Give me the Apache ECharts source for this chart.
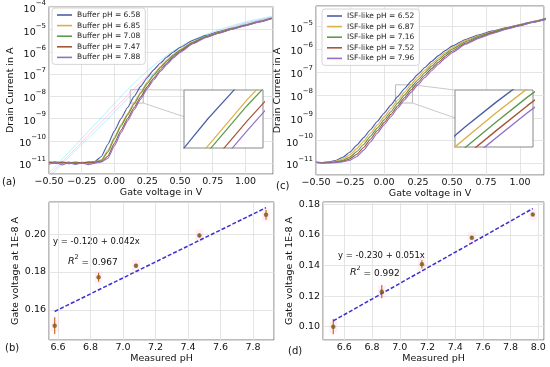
<!DOCTYPE html>
<html><head><meta charset="utf-8">
<script src="https://cdn.jsdelivr.net/npm/echarts@6/dist/echarts.min.js"></script>
<style>html,body{margin:0;padding:0;background:#fff}#c{width:550px;height:367px}</style>
</head><body><div id="c"></div>
<script>
// ---------- data ----------
const vg = [-0.50,-0.45,-0.40,-0.35,-0.30,-0.25,-0.20,-0.15,-0.10,-0.05,0.00,0.05,0.10,0.15,0.20,0.25,0.30,0.35,0.40,0.45,0.50,0.60,0.70,0.80,0.90,1.00,1.10,1.20];
// log10 of drain current (A), panel (a) buffer
const bufNames = ['Buffer pH = 6.58','Buffer pH = 6.85','Buffer pH = 7.08','Buffer pH = 7.47','Buffer pH = 7.88'];
const buf658 = [-10.95,-11.02,-10.96,-11.03,-10.97,-11.02,-10.96,-10.93,-10.70,-10.15,-9.55,-9.00,-8.50,-8.00,-7.55,-7.15,-6.80,-6.50,-6.23,-6.00,-5.80,-5.47,-5.25,-5.08,-4.93,-4.78,-4.62,-4.47];
const buf685 = [-10.92,-10.98,-10.93,-10.99,-10.94,-10.99,-10.93,-10.95,-10.85,-10.42,-9.83,-9.27,-8.77,-8.28,-7.80,-7.37,-7.00,-6.67,-6.37,-6.12,-5.90,-5.54,-5.29,-5.11,-4.95,-4.80,-4.63,-4.48];
const buf708 = [-10.97,-11.00,-10.95,-11.01,-10.96,-11.00,-10.95,-10.96,-10.88,-10.50,-9.90,-9.33,-8.83,-8.34,-7.86,-7.43,-7.05,-6.71,-6.41,-6.15,-5.92,-5.56,-5.30,-5.12,-4.96,-4.80,-4.64,-4.48];
const buf747 = [-10.99,-10.94,-11.00,-10.95,-11.02,-10.96,-11.00,-10.97,-10.93,-10.68,-10.10,-9.52,-9.00,-8.50,-8.02,-7.57,-7.17,-6.81,-6.50,-6.22,-5.98,-5.60,-5.33,-5.14,-4.97,-4.81,-4.65,-4.49];
const buf788 = [-11.05,-10.98,-11.08,-10.97,-11.06,-10.99,-11.07,-11.00,-10.95,-10.78,-10.22,-9.63,-9.10,-8.60,-8.12,-7.66,-7.25,-6.88,-6.56,-6.27,-6.02,-5.63,-5.35,-5.15,-4.98,-4.82,-4.66,-4.50];
// faint background sweeps in (a)
const faintV = [-0.50,-0.30,-0.10,0.05,0.15,0.30,0.45,0.60,0.80,1.00,1.20];
const faintCyan1 = [-11.45,-10.20,-8.95,-8.00,-7.40,-6.60,-5.95,-5.45,-5.00,-4.65,-4.40];
const faintCyan2 = [-11.65,-10.45,-9.30,-8.40,-7.80,-6.95,-6.20,-5.60,-5.10,-4.72,-4.45];
const faintPink1 = [-11.55,-10.35,-9.15,-8.25,-7.65,-6.82,-6.10,-5.55,-5.06,-4.70,-4.43];
// panel (c) ISF-like
const isfNames = ['ISF-like pH = 6.52','ISF-like pH = 6.87','ISF-like pH = 7.16','ISF-like pH = 7.52','ISF-like pH = 7.96'];
const isf652 = [-10.94,-10.96,-10.93,-10.86,-10.72,-10.50,-10.20,-9.87,-9.52,-9.16,-8.80,-8.44,-8.07,-7.72,-7.39,-7.08,-6.79,-6.52,-6.27,-6.05,-5.85,-5.56,-5.35,-5.18,-5.04,-4.90,-4.76,-4.62];
const isf687 = [-10.95,-10.97,-10.95,-10.90,-10.80,-10.62,-10.35,-10.03,-9.68,-9.32,-8.96,-8.60,-8.23,-7.87,-7.53,-7.21,-6.91,-6.63,-6.37,-6.13,-5.92,-5.61,-5.39,-5.21,-5.06,-4.92,-4.77,-4.63];
const isf716 = [-10.95,-10.97,-10.96,-10.93,-10.86,-10.72,-10.48,-10.17,-9.81,-9.45,-9.09,-8.73,-8.36,-8.00,-7.65,-7.33,-7.02,-6.73,-6.46,-6.21,-5.99,-5.66,-5.42,-5.23,-5.07,-4.93,-4.78,-4.64];
const isf752 = [-10.96,-10.98,-10.97,-10.95,-10.90,-10.80,-10.60,-10.30,-9.94,-9.57,-9.21,-8.85,-8.48,-8.12,-7.77,-7.44,-7.13,-6.84,-6.56,-6.30,-6.07,-5.72,-5.46,-5.26,-5.09,-4.94,-4.79,-4.65];
const isf796 = [-10.96,-10.99,-10.98,-10.97,-10.93,-10.86,-10.70,-10.42,-10.06,-9.68,-9.31,-8.95,-8.58,-8.22,-7.87,-7.54,-7.23,-6.93,-6.65,-6.38,-6.14,-5.77,-5.50,-5.29,-5.11,-4.96,-4.80,-4.66];
// panel (b)
const phB = [6.58,6.85,7.08,7.47,7.88];
const vgB = [0.1516,0.1772,0.1833,0.1993,0.2102];
const errB = [0.0044,0.0024,0.0010,0.0010,0.0026];
const fitBx = [6.58,7.88];
const fitBy = [0.1591,0.2140];
// panel (d)
const phD = [6.52,6.87,7.16,7.52,7.96];
const vgD = [0.1000,0.1229,0.1408,0.1582,0.1733];
const errD = [0.0050,0.0043,0.0027,0.0010,0.0010];
const fitDx = [6.52,7.96];
const fitDy = [0.1038,0.1772];
// inset windows (data units)
const insetA = {x:[0.12,0.22], y:[-8.3,-7.7]};
const insetC = {x:[0.084,0.209], y:[-8.35,-7.55]};

// ---------- styling ----------
const FF = 'DejaVu Sans';
const cols = ['#4c5ea8','#dcb047','#5e9a4a','#a5553a','#9070c8'];
const bufData = [buf658,buf685,buf708,buf747,buf788];
const isfData = [isf652,isf687,isf716,isf752,isf796];
const toPts = (xs, arr) => xs.map((v,i)=>[v, Math.pow(10, arr[i])]);

const grids = [
  {left:49, top:6, width:224, height:168, show:true, borderColor:'#555', borderWidth:0.8},
  {left:316, top:6, width:228, height:169, show:true, borderColor:'#555', borderWidth:0.8},
  {left:49, top:202, width:225, height:138, show:true, borderColor:'#555', borderWidth:0.8},
  {left:323, top:202, width:221, height:138, show:true, borderColor:'#555', borderWidth:0.8},
  {left:184, top:90, width:79, height:58, show:true, borderColor:'#888', borderWidth:1, backgroundColor:'#fff', zlevel:1},
  {left:455, top:90, width:78, height:57, show:true, borderColor:'#888', borderWidth:1, backgroundColor:'#fff', zlevel:1}
];
const split = {show:true, lineStyle:{color:'#dedede', width:0.8}};
const aline = {show:false};
const lblBase = {color:'#111', fontSize:9.5, fontFamily:FF, margin:3};
function onGrid(v, step){ return Math.abs(v/step - Math.round(v/step)) < 1e-6; }
function vLbl(v){ if(!onGrid(v,0.25)) return ''; return v.toFixed(2).replace('-','\u2212'); }
function expLbl(v){ const e=Math.log10(v), r=Math.round(e); if(Math.abs(e-r)>1e-6) return ''; return '{b|10}{s|'+(r<0?'\u2212':'')+Math.abs(r)+'}'; }
const expRich = {b:{fontSize:9.5, fontFamily:FF, color:'#111', lineHeight:15, verticalAlign:'bottom'}, s:{fontSize:7, fontFamily:FF, color:'#111', lineHeight:8, verticalAlign:'top'}};
const nameStyle = {fontSize:9.5, fontFamily:FF, color:'#111'};

const xAxes = [
  {gridIndex:0, type:'value', min:-0.5, max:1.21, interval:0.25, axisLine:aline, axisTick:{show:false}, splitLine:split, axisLabel:Object.assign({formatter:vLbl}, lblBase), name:'Gate voltage in V', nameLocation:'middle', nameGap:13, nameTextStyle:nameStyle},
  {gridIndex:1, type:'value', min:-0.5, max:1.176, interval:0.25, axisLine:aline, axisTick:{show:false}, splitLine:split, axisLabel:Object.assign({formatter:vLbl}, lblBase), name:'Gate voltage in V', nameLocation:'middle', nameGap:13, nameTextStyle:nameStyle},
  {gridIndex:2, type:'value', min:6.545, max:7.929, splitNumber:7, axisLine:aline, axisTick:{show:false}, splitLine:split, axisLabel:Object.assign({formatter:v=>onGrid(v,0.2)?v.toFixed(1):''}, lblBase), name:'Measured pH', nameLocation:'middle', nameGap:13, nameTextStyle:nameStyle},
  {gridIndex:3, type:'value', min:6.446, max:8.041, splitNumber:8, axisLine:aline, axisTick:{show:false}, splitLine:split, axisLabel:Object.assign({formatter:v=>onGrid(v,0.2)?v.toFixed(1):''}, lblBase), name:'Measured pH', nameLocation:'middle', nameGap:13, nameTextStyle:nameStyle},
  {gridIndex:4, type:'value', min:insetA.x[0], max:insetA.x[1], show:false, zlevel:1},
  {gridIndex:5, type:'value', min:insetC.x[0], max:insetC.x[1], show:false, zlevel:1}
];
const yAxes = [
  {gridIndex:0, type:'log', logBase:10, min:Math.pow(10,-11.49), max:Math.pow(10,-3.955), axisLine:aline, axisTick:{show:false}, splitLine:split, minorSplitLine:{show:false}, axisLabel:{formatter:expLbl, rich:expRich, margin:3}, name:'Drain Current in A', nameLocation:'middle', nameGap:31, nameTextStyle:nameStyle},
  {gridIndex:1, type:'log', logBase:10, min:Math.pow(10,-11.51), max:Math.pow(10,-4.09), axisLine:aline, axisTick:{show:false}, splitLine:split, axisLabel:{formatter:expLbl, rich:expRich, margin:3}, name:'Drain Current in A', nameLocation:'middle', nameGap:23, nameTextStyle:nameStyle},
  {gridIndex:2, type:'value', min:0.144, max:0.217, splitNumber:4, axisLine:aline, axisTick:{show:false}, splitLine:split, axisLabel:Object.assign({formatter:v=>onGrid(v,0.02)?v.toFixed(2):''}, lblBase), name:'Gate voltage at 1E-8 A', nameLocation:'middle', nameGap:26, nameTextStyle:nameStyle},
  {gridIndex:3, type:'value', min:0.0913, max:0.1815, splitNumber:5, axisLine:aline, axisTick:{show:false}, splitLine:split, axisLabel:Object.assign({formatter:v=>onGrid(v,0.02)?v.toFixed(2):''}, lblBase), name:'Gate voltage at 1E-8 A', nameLocation:'middle', nameGap:25, nameTextStyle:nameStyle},
  {gridIndex:4, type:'log', logBase:10, min:Math.pow(10,insetA.y[0]), max:Math.pow(10,insetA.y[1]), show:false, zlevel:1},
  {gridIndex:5, type:'log', logBase:10, min:Math.pow(10,insetC.y[0]), max:Math.pow(10,insetC.y[1]), show:false, zlevel:1}
];

const series = [];
// faint sweeps
[[faintCyan1,'#22ddff'],[faintCyan2,'#22ddff'],[faintPink1,'#ff77cc']].forEach(([arr,c])=>{
  series.push({type:'line', xAxisIndex:0, yAxisIndex:0, data:toPts(faintV,arr), symbol:'none', smooth:0.3, lineStyle:{color:c, width:1, opacity:0.35}, silent:true, z:1});
});
bufData.forEach((arr,i)=>{
  const s = {type:'line', name:bufNames[i], xAxisIndex:0, yAxisIndex:0, data:toPts(vg,arr), symbol:'none', smooth:0.15, smoothMonotone:'x', color:cols[i], lineStyle:{color:cols[i], width:1.1}};
  if(i===0){ s.markArea = {silent:true, itemStyle:{color:'rgba(0,0,0,0)', borderColor:'#aaa', borderWidth:0.8}, data:[[{coord:[insetA.x[0], Math.pow(10,insetA.y[0])]},{coord:[insetA.x[1], Math.pow(10,insetA.y[1])]}]]}; }
  series.push(s);
  series.push({type:'line', name:bufNames[i], xAxisIndex:4, yAxisIndex:4, zlevel:1, data:toPts(vg,arr), symbol:'none', color:cols[i], lineStyle:{color:cols[i], width:1.2}});
});
isfData.forEach((arr,i)=>{
  const s = {type:'line', name:isfNames[i], xAxisIndex:1, yAxisIndex:1, data:toPts(vg,arr), symbol:'none', smooth:0.15, smoothMonotone:'x', color:cols[i], lineStyle:{color:cols[i], width:1.1}};
  if(i===0){ s.markArea = {silent:true, itemStyle:{color:'rgba(0,0,0,0)', borderColor:'#aaa', borderWidth:0.8}, data:[[{coord:[insetC.x[0], Math.pow(10,insetC.y[0])]},{coord:[insetC.x[1], Math.pow(10,insetC.y[1])]}]]}; }
  series.push(s);
  series.push({type:'line', name:isfNames[i], xAxisIndex:5, yAxisIndex:5, zlevel:1, data:toPts(vg,arr), symbol:'none', color:cols[i], lineStyle:{color:cols[i], width:1.4}});
});
function errSeries(xi, xs, ys, es){
  return {type:'custom', xAxisIndex:xi, yAxisIndex:xi, data:xs.map((x,i)=>[x,ys[i],es[i]]), encode:{x:0,y:1}, z:3,
    renderItem:(p,api)=>{ const x=api.value(0), y=api.value(1), e=api.value(2); const a=api.coord([x,y-e]), b=api.coord([x,y+e]);
      return {type:'line', shape:{x1:a[0],y1:a[1],x2:b[0],y2:b[1]}, style:{stroke:'#d2691e', lineWidth:1.2}}; }};
}
[[2,phB,vgB,errB,fitBx,fitBy],[3,phD,vgD,errD,fitDx,fitDy]].forEach(([gi,xs,ys,es,fx,fy])=>{
  series.push({type:'scatter', xAxisIndex:gi, yAxisIndex:gi, data:xs.map((x,i)=>[x,ys[i]]), symbol:'rect', symbolSize:[8,12], itemStyle:{color:'rgba(255,160,200,0.2)'}, z:1, silent:true});
  series.push({type:'line', xAxisIndex:gi, yAxisIndex:gi, data:fx.map((x,i)=>[x,fy[i]]), symbol:'none', lineStyle:{color:'#3b2fd0', width:1.5, type:[4,2]}, z:4});
  series.push(errSeries(gi,xs,ys,es));
  series.push({type:'scatter', xAxisIndex:gi, yAxisIndex:gi, data:xs.map((x,i)=>[x,ys[i]]), symbol:'circle', symbolSize:4.5, itemStyle:{color:'#7a5a1c'}, z:5});
});

const legendCommon = {orient:'vertical', icon:'rect', itemWidth:15, itemHeight:1.6, itemGap:2.6, padding:[3,5,3,5], borderColor:'#ccc', borderWidth:0.8, borderRadius:3, backgroundColor:'rgba(255,255,255,0.85)', textStyle:{fontSize:7.5, fontFamily:FF, color:'#222'}, selectedMode:false};
const txt = (t,l,tp,fs)=>({type:'text', left:l, top:tp, style:{text:t, font:fs+'px "'+FF+'"', fill:'#111'}});
const r2 = (val,l,tp)=>({type:'text', left:l, top:tp, style:{text:'{i|R}{s|2}{n| = '+val+'}', rich:{i:{fontSize:9.5, fontStyle:'italic', fontFamily:FF, fill:'#111', lineHeight:13, verticalAlign:'bottom'}, s:{fontSize:6.5, fontFamily:FF, fill:'#111', lineHeight:7, verticalAlign:'top'}, n:{fontSize:9, fontFamily:FF, fill:'#111', lineHeight:13, verticalAlign:'bottom'}}}});

const chart = echarts.init(document.getElementById('c'), null, {renderer:'canvas'});
chart.setOption({
  animation:false,
  textStyle:{fontFamily:FF},
  grid:grids, xAxis:xAxes, yAxis:yAxes, series:series,
  legend:[Object.assign({data:bufNames, left:52, top:8}, legendCommon), Object.assign({data:isfNames, left:322, top:9}, legendCommon)],
  graphic:[
    txt('(a)',2,177,10), txt('(b)',5,343,10), txt('(c)',276,181,10), txt('(d)',288,346,10),
    txt('y = -0.120 + 0.042x',53,237,8.5), r2('0.967',68,254),
    txt('y = -0.230 + 0.051x',338,251,8.5), r2('0.992',350,265)
  ]
});
// inset connector lines
function conn(gMain, gInset, win, yFrac){
  const p1 = chart.convertToPixel({gridIndex:gMain}, [win.x[1], Math.pow(10,win.y[1])]);
  const p2 = chart.convertToPixel({gridIndex:gMain}, [win.x[1], Math.pow(10,win.y[0])]);
  const q1 = chart.convertToPixel({gridIndex:gInset}, [win.x[0], Math.pow(10,win.y[1])]);
  const q2 = chart.convertToPixel({gridIndex:gInset}, [win.x[0], Math.pow(10,win.y[1] - yFrac*(win.y[1]-win.y[0]))]);
  return [
    {type:'line', shape:{x1:p1[0],y1:p1[1],x2:q1[0],y2:q1[1]}, style:{stroke:'#bbb', lineWidth:0.8}, z:2, silent:true},
    {type:'line', shape:{x1:p2[0],y1:p2[1],x2:q2[0],y2:q2[1]}, style:{stroke:'#bbb', lineWidth:0.8}, z:2, silent:true}
  ];
}
const extra = conn(0,4,insetA,0.46).concat(conn(1,5,insetC,0.49));
const opt = chart.getOption();
chart.setOption({graphic: opt.graphic[0].elements.concat(extra)});
</script></body></html>
